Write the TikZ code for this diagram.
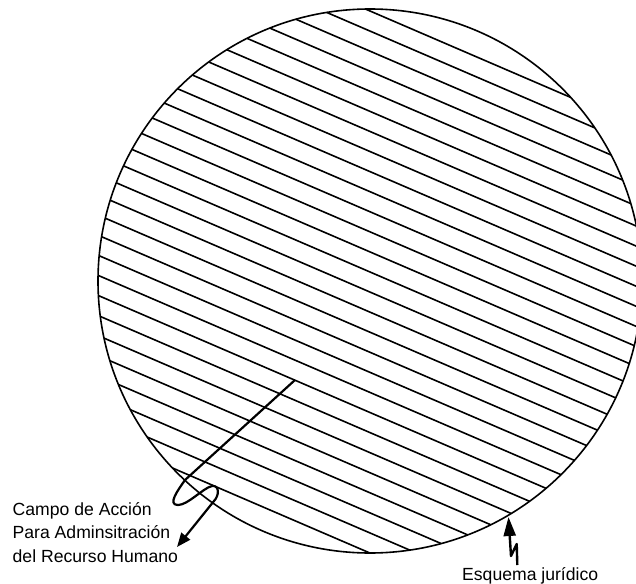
\documentclass[tikz,border=0pt]{standalone}
\usepackage{fontspec}
\newfontfamily\labfont{Liberation Sans}
\usetikzlibrary{arrows.meta}
\begin{document}
\begin{tikzpicture}[x=1pt,y=-1pt,
  hatch/.style={line width=1.6pt},
  rim/.style={draw, line width=1.6pt},
  pointerA/.style={line width=2.2pt, line join=round, -{Triangle[length=14pt,width=11pt]}},
  pointerB/.style={line width=2.4pt, line join=round, -{Triangle[length=19pt,width=12pt]}},
  lab/.style={font=\labfont\fontsize{17.6}{20}\selectfont, inner sep=0pt, anchor=base west}]
\useasboundingbox (0,0) rectangle (636,583);
\begin{scope}
  \clip (0,0) rectangle (636,583);
  \node[circle, rim, minimum size=544pt, inner sep=0pt] (field) at (370,281) {};
  \foreach \k in {0,...,27}{
    \pgfmathsetmacro\dd{(-248+18.44*\k)/100}
    \pgfmathsetmacro\hh{100*sqrt(2.72*2.72-\dd*\dd)}
    \pgfmathsetmacro\mx{370-39.55*\dd}
    \pgfmathsetmacro\my{281+91.84*\dd}
    \pgfmathsetmacro\ax{\mx-0.9184*\hh}
    \pgfmathsetmacro\ay{\my-0.3955*\hh}
    \pgfmathsetmacro\bx{\mx+0.9184*\hh}
    \pgfmathsetmacro\by{\my+0.3955*\hh}
    \draw[hatch] (\ax,\ay) -- (\bx,\by);
  }
\end{scope}
% labels
\node[lab] (campoA) at (12.5,515.5) {Campo de Acción};
\node[lab] (campoB) at (12.5,538.5) {Para Adminsitración};
\node[lab] (campoC) at (12.5,562) {del Recurso Humano};
\node[lab] (esq) at (462,580) {Esquema jurídico};
% pointer into the field
\coordinate (inside) at (295,380);
\coordinate (campotip) at (177,547);
\draw[pointerA] (inside) -- (185,480)
  .. controls (178,490) and (167,505) .. (178,505)
  .. controls (188,505) and (203,488) .. (212,486)
  .. controls (220,485) and (219,496) .. (214,501)
  -- (campotip);
% pointer to the rim
\coordinate (esqtail) at (517.3,565);
\coordinate (esqtip) at (508.5,517);
\draw[pointerB] (esqtail) -- (516.7,544) -- (511,556) -- (esqtip);
\end{tikzpicture}
\end{document}
